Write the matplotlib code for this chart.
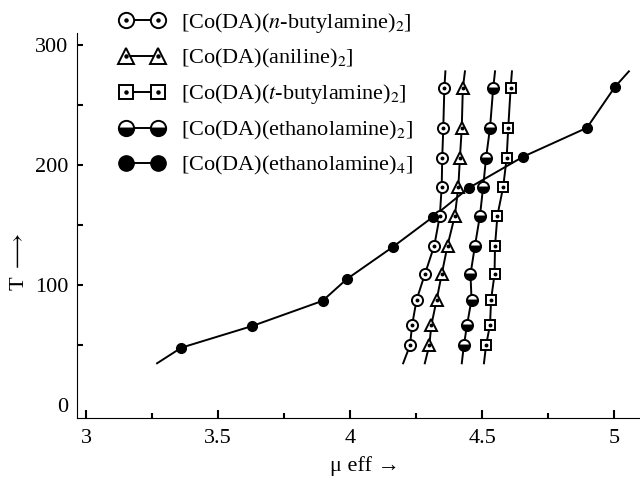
import matplotlib
matplotlib.use('Agg')
import matplotlib.pyplot as plt
from matplotlib.lines import Line2D

plt.rcParams['font.family'] = ['Liberation Serif', 'DejaVu Serif', 'DejaVu Sans']
plt.rcParams['mathtext.fontset'] = 'stix'

# T values (K), bottom to top
t_vals = [50, 67, 88, 109, 133, 158, 182, 206, 231, 264]

# mu_eff for the four near-vertical series
mu_nbutyl = [4.227, 4.235, 4.252, 4.283, 4.319, 4.340, 4.347, 4.349, 4.353, 4.357]
mu_aniline = [4.300, 4.308, 4.328, 4.347, 4.369, 4.397, 4.410, 4.416, 4.423, 4.427]
mu_etoh2 = [4.431, 4.443, 4.460, 4.456, 4.473, 4.492, 4.504, 4.515, 4.530, 4.542]
mu_tbutyl = [4.515, 4.530, 4.534, 4.547, 4.549, 4.558, 4.580, 4.593, 4.599, 4.608]

# ethanolamine(4) series has its own T values
t_etoh4 = [48, 66, 87, 105, 132, 157, 181, 207, 231, 265]
mu_etoh4 = [3.361, 3.629, 3.896, 3.987, 4.163, 4.315, 4.450, 4.656, 4.897, 5.003]

# where the drawn curves run past the first/last marker (mu_low, mu_high)
curve_ends = {
    'nbutyl': (4.201, 4.361),
    'aniline': (4.283, 4.435),
    'etoh2': (4.423, 4.549),
    'tbutyl': (4.507, 4.613),
    'etoh4': (3.269, 5.056),
}
t_end_low = 35
t_end_high = 278

labels = [
    r'[Co(DA)($\it{n}$-butylamine)$_2$]',
    r'[Co(DA)(aniline)$_2$]',
    r'[Co(DA)($\it{t}$-butylamine)$_2$]',
    r'[Co(DA)(ethanolamine)$_2$]',
    r'[Co(DA)(ethanolamine)$_4$]',
]

fig = plt.figure(figsize=(6.4, 4.8), dpi=100)
ax = fig.add_axes([0.12, 0.129, 0.88, 0.802])

lw = 1.4
ms = 8


def draw_curve(mu, t, key):
    lo, hi = curve_ends[key]
    ax.plot([lo] + mu + [hi], [t_end_low] + t + [t_end_high], color='black', lw=lw, zorder=2)


for mu, key in [(mu_nbutyl, 'nbutyl'), (mu_aniline, 'aniline'),
                (mu_etoh2, 'etoh2'), (mu_tbutyl, 'tbutyl')]:
    draw_curve(mu, t_vals, key)
draw_curve(mu_etoh4, t_etoh4, 'etoh4')

# markers
ax.plot(mu_nbutyl, t_vals, 'o', ms=ms, mfc='white', mec='black', mew=1.4, zorder=3)
ax.plot(mu_nbutyl, t_vals, 'o', ms=1.8, color='black', zorder=4)
ax.plot(mu_aniline, t_vals, '^', ms=ms + 1, mfc='white', mec='black', mew=1.4, zorder=3)
ax.plot(mu_aniline, t_vals, 'o', ms=1.8, color='black', zorder=4)
ax.plot(mu_tbutyl, t_vals, 's', ms=ms - 1, mfc='white', mec='black', mew=1.4, zorder=3)
ax.plot(mu_tbutyl, t_vals, 'o', ms=1.8, color='black', zorder=4)
ax.plot(mu_etoh2, t_vals, 'o', ms=ms, fillstyle='bottom', mfc='black',
        mfcalt='white', mec='black', mew=1.4, zorder=3)
ax.plot(mu_etoh4, t_etoh4, 'o', ms=ms - 1, color='black', zorder=3)

# legend handles
dot = Line2D([], [], ls='none', marker='o', ms=2.2, color='black')
h1 = Line2D([], [], color='black', lw=lw, marker='o', ms=11, mfc='white', mec='black', mew=1.4)
h2 = Line2D([], [], color='black', lw=lw, marker='^', ms=12, mfc='white', mec='black', mew=1.4)
h3 = Line2D([], [], color='black', lw=lw, marker='s', ms=10, mfc='white', mec='black', mew=1.4)
h4 = Line2D([], [], color='black', lw=lw, marker='o', ms=11, fillstyle='bottom',
            mfc='black', mfcalt='white', mec='black', mew=1.4)
h5 = Line2D([], [], color='black', lw=lw, marker='o', ms=11)
handles = [(h1, dot), (h2, dot), (h3, dot), h4, h5]
ax.legend(handles, labels, loc='upper left', bbox_to_anchor=(0.186, 0.978),
          bbox_transform=fig.transFigure, frameon=False, fontsize=16, numpoints=2,
          handlelength=2.05, handletextpad=0.75, labelspacing=0.56, borderpad=0,
          borderaxespad=0)

ax.set_xlim(2.965, 5.098)
ax.set_ylim(-10.6, 309.8)
ax.set_xticks([3, 3.5, 4, 4.5, 5])
ax.set_xticklabels(['3', '3.5', '4', '4.5', '5'])
ax.set_xticks([3.25, 3.75, 4.25, 4.75], minor=True)
ax.set_yticks([0, 100, 200, 300])
ax.set_yticks([50, 150, 250], minor=True)
ax.tick_params(which='both', direction='in', labelsize=16, width=1.5)
ax.tick_params(axis='x', which='major', length=6, pad=8)
ax.tick_params(axis='x', which='minor', length=3.5)
ax.tick_params(axis='y', which='both', length=4.5, pad=6)
ax.yaxis.get_major_ticks()[0].tick1line.set_visible(False)
ax.spines['top'].set_visible(False)
ax.spines['right'].set_visible(False)

ax.set_xlabel('\u03bc eff \u2192', fontsize=16, labelpad=6)
ax.xaxis.set_label_coords(0.512, -0.1)
fig.text(20 / 640, 1 - 262 / 480, r'T $\longrightarrow$', rotation=90,
         fontsize=16, ha='center', va='center')

fig.savefig('out.png', dpi=100)
